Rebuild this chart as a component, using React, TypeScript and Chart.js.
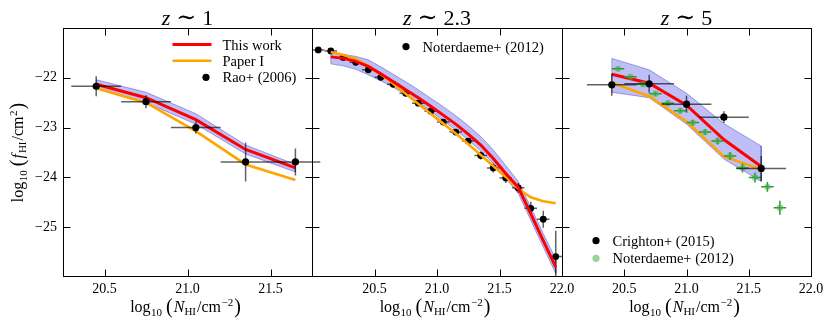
import React, { useEffect, useRef } from 'react';
import { Chart, registerables } from 'chart.js';
Chart.register(...registerables);

// ---------------- data ----------------
// y axis (log10 f_HI)
const yTickValues = [-25, -24, -23, -22];
// x tick labels per panel
const xTicksZ1 = [20.5, 21.0, 21.5];
const xTicksZ23 = [20.5, 21.0, 21.5, 22.0];
const xTicksZ5 = [20.5, 21.0, 21.5, 22.0];

// z ~ 1 : models
const z1N = [20.45, 20.75, 21.05, 21.35, 21.65];
const z1ThisWork = [-22.13, -22.40, -22.84, -23.44, -23.81];
const z1BandHi = [-22.04, -22.29, -22.72, -23.35, -23.74];
const z1BandLo = [-22.22, -22.50, -22.93, -23.53, -23.89];
const z1PaperI = [-22.21, -22.50, -23.07, -23.74, -24.05];
// z ~ 1 : Rao+ (2006)
const raoN = [20.45, 20.75, 21.05, 21.35, 21.65];
const raoF = [-22.17, -22.48, -23.00, -23.69, -23.69];
const raoDN = [0.15, 0.15, 0.15, 0.15, 0.15];
const raoDF = [0.20, 0.13, 0.12, 0.39, 0.27];

// z ~ 2.3 : models
const z23N = [20.15, 20.25, 20.35, 20.45, 20.55, 20.65, 20.75, 20.85, 20.95, 21.05, 21.15, 21.25, 21.35, 21.45, 21.55, 21.65, 21.75, 21.85, 21.95];
const z23ThisWork = [-21.58, -21.61, -21.67, -21.77, -21.92, -22.08, -22.24, -22.40, -22.57, -22.75, -22.93, -23.13, -23.35, -23.62, -23.92, -24.20, -24.73, -25.27, -25.80];
const z23BandHi = [-21.50, -21.53, -21.57, -21.64, -21.78, -21.93, -22.08, -22.24, -22.41, -22.58, -22.76, -22.96, -23.18, -23.45, -23.76, -24.08, -24.60, -25.13, -25.64];
const z23BandLo = [-21.72, -21.76, -21.83, -21.94, -22.06, -22.19, -22.34, -22.50, -22.67, -22.86, -23.05, -23.25, -23.47, -23.72, -24.02, -24.32, -24.86, -25.40, -25.93];
const z23PaperI = [-21.48, -21.54, -21.62, -21.76, -21.93, -22.12, -22.32, -22.52, -22.72, -22.92, -23.12, -23.33, -23.55, -23.77, -23.99, -24.23, -24.40, -24.48, -24.52];
// z ~ 2.3 : Noterdaeme+ (2012)
const n12N = [20.05, 20.15, 20.25, 20.35, 20.45, 20.55, 20.65, 20.75, 20.85, 20.95, 21.05, 21.15, 21.25, 21.35, 21.45, 21.55, 21.65, 21.75, 21.85, 21.95];
const n12F = [-21.44, -21.46, -21.59, -21.69, -21.84, -21.99, -22.13, -22.31, -22.51, -22.67, -22.89, -23.09, -23.27, -23.56, -23.81, -24.01, -24.21, -24.62, -24.84, -25.59];
const n12DN = [0.05, 0.05, 0.05, 0.05, 0.05, 0.05, 0.05, 0.05, 0.05, 0.05, 0.05, 0.05, 0.05, 0.05, 0.05, 0.05, 0.05, 0.05, 0.05, 0.05];
const n12DFup = [0.02, 0.02, 0.02, 0.03, 0.03, 0.03, 0.04, 0.04, 0.05, 0.05, 0.05, 0.06, 0.06, 0.08, 0.09, 0.10, 0.10, 0.13, 0.17, 0.52];
const n12DFlo = [0.02, 0.02, 0.02, 0.03, 0.03, 0.03, 0.04, 0.04, 0.05, 0.05, 0.05, 0.06, 0.06, 0.08, 0.09, 0.10, 0.10, 0.13, 0.17, 0.80];

// z ~ 5 : models
const z5N = [20.4, 20.7, 21.0, 21.3, 21.6];
const z5ThisWork = [-21.93, -22.11, -22.55, -23.24, -23.78];
const z5BandHi = [-21.61, -21.84, -22.31, -22.92, -23.37];
const z5BandLo = [-22.29, -22.40, -22.93, -23.63, -24.08];
const z5PaperI = [-22.10, -22.37, -22.88, -23.58, -23.84];
// z ~ 5 : Crighton+ (2015)
const criN = [20.4, 20.7, 21.0, 21.3, 21.6];
const criF = [-22.14, -22.12, -22.53, -22.79, -23.82];
const criDN = [0.2, 0.2, 0.2, 0.2, 0.2];
const criDF = [0.22, 0.18, 0.17, 0.12, 0.25];
// z ~ 5 : Noterdaeme+ (2012)
const n12z5N = [20.45, 20.55, 20.65, 20.75, 20.85, 20.95, 21.05, 21.15, 21.25, 21.35, 21.45, 21.55, 21.65, 21.75];
const n12z5F = [-21.82, -21.98, -22.13, -22.32, -22.51, -22.66, -22.90, -23.09, -23.27, -23.57, -23.81, -24.00, -24.19, -24.61];
const n12z5DN = [0.05, 0.05, 0.05, 0.05, 0.05, 0.05, 0.05, 0.05, 0.05, 0.05, 0.05, 0.05, 0.05, 0.05];
const n12z5DF = [0.03, 0.03, 0.04, 0.04, 0.05, 0.05, 0.06, 0.06, 0.07, 0.08, 0.09, 0.10, 0.10, 0.14];

// ---------------- styles / layout ----------------
const W = 831;
const H = 327;
const TOP = 28;
const XAXIS_H = 50;
const YAXIS_W = 50;
const SERIF = "'Liberation Serif', 'DejaVu Serif', serif";
const RED = '#ff0000';
const ORANGE = '#ffa500';
const BAND_FILL = 'rgba(20,20,230,0.27)';
const BAND_EDGE = 'rgba(60,60,190,0.45)';
const ERR_BLACK = 'rgba(0,0,0,0.62)';
const GREEN = '#2a9a2a';
const LIGHT_GREEN = 'rgba(70,175,70,0.55)';

type Err = { xlo: number[]; xhi: number[]; ylo: number[]; yhi: number[]; color: string; width: number; clip: boolean };
type LegendItem = { kind: 'line' | 'dot'; color: string; label: string; x: number; y: number };
type Run = { t: string; size: number; italic?: boolean; dy?: number; pre?: number; family?: string };

const pts = (xs: number[], ys: number[]) => xs.map((x, i) => ({ x, y: ys[i] }));
const outline = (xs: number[], hi: number[], lo: number[]) => {
  const up = pts(xs, hi);
  const down = pts(xs, lo).reverse();
  return [...up, ...down, up[0]];
};

function fontOf(r: Run) {
  return `${r.italic ? 'italic ' : ''}${r.size}px ${r.family || SERIF}`;
}
function drawRuns(ctx: CanvasRenderingContext2D, runs: Run[], cx: number, base: number) {
  let w = 0;
  for (const r of runs) {
    ctx.font = fontOf(r);
    w += ctx.measureText(r.t).width + (r.pre || 0);
  }
  let x = cx - w / 2;
  ctx.textAlign = 'left';
  ctx.textBaseline = 'alphabetic';
  for (const r of runs) {
    ctx.font = fontOf(r);
    x += r.pre || 0;
    ctx.fillText(r.t, x, base + (r.dy || 0));
    x += ctx.measureText(r.t).width;
  }
}

const xLabelRuns: Run[] = [
  { t: 'log', size: 16 },
  { t: '10', size: 11, dy: 4, pre: 0.5 },
  { t: '(', size: 20, dy: 1, pre: 4 },
  { t: 'N', size: 16, italic: true, pre: 1 },
  { t: 'HI', size: 11, dy: 3 },
  { t: '/cm', size: 16, pre: 1 },
  { t: '−2', size: 11, dy: -6, pre: 0.5 },
  { t: ')', size: 20, dy: 1, pre: 1 },
];
const yLabelRuns: Run[] = [
  { t: 'log', size: 16 },
  { t: '10', size: 11, dy: 4, pre: 0.5 },
  { t: '(', size: 20, dy: 1, pre: 4 },
  { t: 'f', size: 16, italic: true, pre: 1 },
  { t: 'HI', size: 11, dy: 3, pre: 1 },
  { t: '/cm', size: 16, pre: 1 },
  { t: '2', size: 11, dy: -6, pre: 0.5 },
  { t: ')', size: 20, dy: 1, pre: 1 },
];

interface Panel {
  left: number;
  right: number;
  xMin: number;
  xMax: number;
  xTicks: number[];
  zText: string;
  showY: boolean;
  datasets: any[];
  errs: Record<string, Err>;
  legend: LegendItem[];
}

function makePlugin(p: Panel) {
  return {
    id: 'decor',
    beforeDatasetDraw(chart: any, args: any) {
      const ds = chart.data.datasets[args.index];
      const e = ds && ds.label ? p.errs[ds.label] : undefined;
      if (!e) return;
      const { ctx, chartArea: a } = chart;
      const xs = chart.scales.x;
      const ys = chart.scales.y;
      const data = ds.data as { x: number; y: number }[];
      ctx.save();
      if (e.clip) {
        ctx.beginPath();
        ctx.rect(a.left, a.top, a.right - a.left, a.bottom - a.top);
        ctx.clip();
      }
      ctx.strokeStyle = e.color;
      ctx.lineWidth = e.width;
      data.forEach((d, i) => {
        const px = xs.getPixelForValue(d.x);
        const py = ys.getPixelForValue(d.y);
        ctx.beginPath();
        ctx.moveTo(xs.getPixelForValue(d.x - e.xlo[i]), py);
        ctx.lineTo(xs.getPixelForValue(d.x + e.xhi[i]), py);
        ctx.moveTo(px, ys.getPixelForValue(d.y - e.ylo[i]));
        ctx.lineTo(px, ys.getPixelForValue(d.y + e.yhi[i]));
        ctx.stroke();
      });
      ctx.restore();
    },
    afterDraw(chart: any) {
      const { ctx, chartArea: a } = chart;
      const xs = chart.scales.x;
      const ys = chart.scales.y;
      ctx.save();
      // frame
      ctx.strokeStyle = '#000';
      ctx.lineWidth = 1;
      const L = Math.round(a.left) + 0.5;
      const R = Math.round(a.right) + 0.5;
      const T = Math.round(a.top) + 0.5;
      const B = Math.round(a.bottom) - 0.5;
      ctx.strokeRect(L, T, R - L, B - T);
      // inward ticks
      const TL = 7;
      ctx.beginPath();
      for (const t of xs.ticks) {
        const v = t.value;
        if (v <= xs.min + 1e-6 || v >= xs.max - 1e-6) continue;
        const px = Math.round(xs.getPixelForValue(v)) + 0.5;
        ctx.moveTo(px, B);
        ctx.lineTo(px, B - TL);
        ctx.moveTo(px, T);
        ctx.lineTo(px, T + TL);
      }
      for (const t of ys.ticks) {
        const v = t.value;
        if (v <= ys.min + 1e-6 || v >= ys.max - 1e-6) continue;
        const py = Math.round(ys.getPixelForValue(v)) + 0.5;
        ctx.moveTo(L, py);
        ctx.lineTo(L + TL, py);
        ctx.moveTo(R, py);
        ctx.lineTo(R - TL, py);
      }
      ctx.stroke();

      ctx.fillStyle = '#000';
      const cx = (a.left + a.right) / 2;
      // title  z ~ value
      ctx.textBaseline = 'alphabetic';
      ctx.textAlign = 'left';
      const fz = `italic 22px ${SERIF}`;
      const ft = `24px 'DejaVu Serif', serif`;
      const fn = `22px ${SERIF}`;
      ctx.font = fz;
      const wz = ctx.measureText('z').width;
      ctx.font = ft;
      const wt = ctx.measureText('∼').width;
      ctx.font = fn;
      const wn = ctx.measureText(p.zText).width;
      const gap = 6;
      let x0 = cx - (wz + wt + wn + 2 * gap) / 2;
      ctx.font = fz;
      ctx.fillText('z', x0, 25);
      x0 += wz + gap;
      ctx.font = ft;
      ctx.fillText('∼', x0, 25);
      x0 += wt + gap;
      ctx.font = fn;
      ctx.fillText(p.zText, x0, 25);

      // x label
      drawRuns(ctx, xLabelRuns, cx - 2, 311.5);
      // y label
      if (p.showY) {
        ctx.save();
        ctx.translate(23, (a.top + a.bottom) / 2);
        ctx.rotate(-Math.PI / 2);
        drawRuns(ctx, yLabelRuns, 0, 0);
        ctx.restore();
      }
      // legend
      ctx.font = `14.5px ${SERIF}`;
      ctx.textAlign = 'left';
      ctx.textBaseline = 'alphabetic';
      for (const it of p.legend) {
        if (it.kind === 'line') {
          ctx.strokeStyle = it.color;
          ctx.lineWidth = it.color === RED ? 3 : 2.6;
          ctx.beginPath();
          ctx.moveTo(it.x - 50, it.y);
          ctx.lineTo(it.x - 11, it.y);
          ctx.stroke();
        } else {
          ctx.fillStyle = it.color;
          ctx.beginPath();
          ctx.arc(it.x - 16.5, it.y, 3.6, 0, Math.PI * 2);
          ctx.fill();
        }
        ctx.fillStyle = '#000';
        ctx.fillText(it.label, it.x, it.y + 5);
      }
      ctx.restore();
    },
  };
}

function lineDs(label: string, xs: number[], ys: number[], color: string, width: number, order: number) {
  return {
    label,
    data: pts(xs, ys),
    showLine: true,
    borderColor: color,
    borderWidth: width,
    pointRadius: 0,
    fill: false,
    order,
  };
}
function bandDs(xs: number[], hi: number[], lo: number[]) {
  return [
    { label: 'bandHi', data: pts(xs, hi), showLine: true, borderWidth: 0, borderColor: 'rgba(0,0,0,0)', backgroundColor: BAND_FILL, pointRadius: 0, fill: '+1', order: 10 },
    { label: 'bandLo', data: pts(xs, lo), showLine: true, borderWidth: 0, borderColor: 'rgba(0,0,0,0)', pointRadius: 0, fill: false, order: 11 },
    { label: 'bandEdge', data: outline(xs, hi, lo), showLine: true, borderWidth: 1, borderColor: BAND_EDGE, pointRadius: 0, fill: false, order: 9 },
  ];
}
function pointDs(label: string, xs: number[], ys: number[], color: string, radius: number, order: number) {
  return {
    label,
    data: pts(xs, ys),
    showLine: false,
    pointRadius: radius,
    pointBackgroundColor: color,
    pointBorderWidth: 0,
    pointBorderColor: 'rgba(0,0,0,0)',
    order,
  };
}

const panels: Panel[] = [
  {
    left: 63,
    right: 312,
    xMin: 20.25,
    xMax: 21.75,
    xTicks: xTicksZ1,
    zText: '1',
    showY: true,
    datasets: [
      ...bandDs(z1N, z1BandHi, z1BandLo),
      lineDs('Paper I', z1N, z1PaperI, ORANGE, 2.6, 5),
      lineDs('This work', z1N, z1ThisWork, RED, 3, 4),
      pointDs('Rao+ (2006)', raoN, raoF, '#000', 3.6, 1),
    ],
    errs: { 'Rao+ (2006)': { xlo: raoDN, xhi: raoDN, ylo: raoDF, yhi: raoDF, color: ERR_BLACK, width: 1.5, clip: false } },
    legend: [
      { kind: 'line', color: RED, label: 'This work', x: 222.5, y: 44.5 },
      { kind: 'line', color: ORANGE, label: 'Paper I', x: 222.5, y: 60.8 },
      { kind: 'dot', color: '#000', label: 'Rao+ (2006)', x: 222.5, y: 77.3 },
    ],
  },
  {
    left: 312,
    right: 562,
    xMin: 20,
    xMax: 22,
    xTicks: xTicksZ23,
    zText: '2.3',
    showY: false,
    datasets: [
      ...bandDs(z23N, z23BandHi, z23BandLo),
      pointDs('Noterdaeme+ (2012)', n12N, n12F, '#000', 3.4, 6),
      lineDs('Paper I', z23N, z23PaperI, ORANGE, 2.6, 5),
      lineDs('This work', z23N, z23ThisWork, RED, 3, 4),
    ],
    errs: { 'Noterdaeme+ (2012)': { xlo: n12DN, xhi: n12DN, ylo: n12DFlo, yhi: n12DFup, color: ERR_BLACK, width: 1.5, clip: true } },
    legend: [{ kind: 'dot', color: '#000', label: 'Noterdaeme+ (2012)', x: 422.5, y: 46.6 }],
  },
  {
    left: 562,
    right: 811,
    xMin: 20,
    xMax: 22,
    xTicks: xTicksZ5,
    zText: '5',
    showY: false,
    datasets: [
      ...bandDs(z5N, z5BandHi, z5BandLo),
      lineDs('Paper I', z5N, z5PaperI, ORANGE, 2.6, 5),
      lineDs('This work', z5N, z5ThisWork, RED, 3, 4),
      pointDs('Noterdaeme+ (2012)', n12z5N, n12z5F, LIGHT_GREEN, 3.2, 3),
      pointDs('Crighton+ (2015)', criN, criF, '#000', 3.6, 1),
    ],
    errs: {
      'Noterdaeme+ (2012)': { xlo: n12z5DN, xhi: n12z5DN, ylo: n12z5DF, yhi: n12z5DF, color: GREEN, width: 1.5, clip: true },
      'Crighton+ (2015)': { xlo: criDN, xhi: criDN, ylo: criDF, yhi: criDF, color: ERR_BLACK, width: 1.5, clip: false },
    },
    legend: [
      { kind: 'dot', color: '#000', label: 'Crighton+ (2015)', x: 612.5, y: 240.7 },
      { kind: 'dot', color: LIGHT_GREEN, label: 'Noterdaeme+ (2012)', x: 612.5, y: 258.3 },
    ],
  },
];

function PanelCanvas({ p }: { p: Panel }) {
  const ref = useRef<HTMLCanvasElement | null>(null);
  useEffect(() => {
    if (!ref.current) return;
    const chart = new Chart(ref.current, {
      type: 'scatter',
      data: { datasets: p.datasets },
      options: {
        animation: false,
        responsive: false,
        devicePixelRatio: 1,
        events: [],
        layout: {
          padding: { left: p.showY ? p.left - YAXIS_W : p.left, right: W - p.right, top: TOP, bottom: 0 },
        },
        plugins: { legend: { display: false }, tooltip: { enabled: false } },
        scales: {
          x: {
            type: 'linear',
            position: 'bottom',
            min: p.xMin,
            max: p.xMax,
            grid: { display: false, drawTicks: false },
            border: { display: false },
            afterBuildTicks: (s: any) => {
              s.ticks = p.xTicks.map((v) => ({ value: v }));
            },
            afterFit: (s: any) => {
              s.height = XAXIS_H;
            },
            ticks: {
              autoSkip: false,
              maxRotation: 0,
              padding: 4,
              color: '#000',
              font: { family: SERIF, size: 14 },
              callback: (v: any) => Number(v).toFixed(1),
            },
          },
          y: {
            type: 'linear',
            position: 'left',
            display: p.showY,
            min: -26,
            max: -21,
            grid: { display: false, drawTicks: false },
            border: { display: false },
            afterBuildTicks: (s: any) => {
              s.ticks = yTickValues.map((v) => ({ value: v }));
            },
            afterFit: (s: any) => {
              s.width = p.showY ? YAXIS_W : 0;
            },
            ticks: {
              padding: 6,
              color: '#000',
              font: { family: SERIF, size: 14 },
              callback: (v: any) => (Number(v) < 0 ? '−' + Math.abs(Number(v)) : String(v)),
            },
          },
        },
      },
      plugins: [makePlugin(p)],
    } as any);
    return () => chart.destroy();
  }, [p]);
  return (
    <canvas
      ref={ref}
      width={W}
      height={H}
      style={{ position: 'absolute', left: 0, top: 0, width: W, height: H }}
    />
  );
}

export default function App() {
  return (
    <div style={{ position: 'fixed', left: 0, top: 0, width: W, height: H, background: '#fff', overflow: 'hidden' }}>
      {panels.map((p, i) => (
        <PanelCanvas key={i} p={p} />
      ))}
    </div>
  );
}
